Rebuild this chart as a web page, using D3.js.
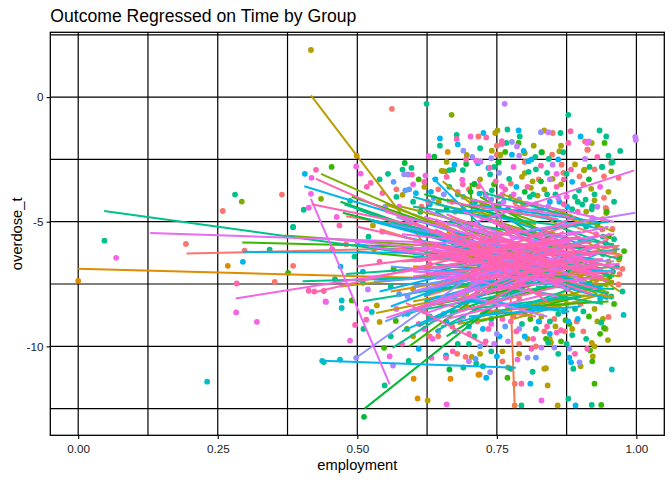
<!DOCTYPE html>
<html>
<head>
<meta charset="utf-8">
<script src="https://cdn.jsdelivr.net/npm/d3@7"></script>
<style>
  body { margin: 0; background: #fff; }
  text { font-family: "Liberation Sans", Arial, sans-serif; }
</style>
</head>
<body>
<div id="chart"></div>
<script>
// groups (one colour each, ggplot hue order)
const groups = ["g01","g02","g03","g04","g05","g06","g07","g08","g09","g10","g11","g12","g13","g14","g15","g16","g17"];

const xTicks = [0, 0.25, 0.5, 0.75, 1];
const xTickLabels = ["0.00", "0.25", "0.50", "0.75", "1.00"];
const xMinor = [0.125, 0.375, 0.625, 0.875];
const yTicks = [0, -5, -10];
const yTickLabels = ["0", "-5", "-10"];
const yMinor = [2.5, -2.5, -7.5, -12.5];

// observations: [group index, employment, overdose_t]
const points = [
  [2,0.0,-7.37],[8,0.047,-5.76],[15,0.068,-6.45],[0,0.193,-5.89],[9,0.231,-11.42],[0,0.259,-4.57],
  [8,0.281,-3.91],[5,0.293,-4.19],[2,0.268,-6.77],[10,0.295,-6.61],[0,0.298,-6.16],[8,0.343,-6.12],
  [0,0.385,-6.77],[6,0.376,-7.05],[16,0.284,-7.48],[0,0.352,-7.41],[15,0.283,-8.64],[15,0.320,-9.02],
  [0,0.365,-3.91],[8,0.385,-5.22],[8,0.404,-4.52],[15,0.413,-4.44],[15,0.417,-3.88],[5,0.435,-4.08],
  [10,0.406,-3.08],[15,0.418,-3.24],[16,0.426,-2.92],[6,0.454,-2.80],[3,0.417,1.89],[16,0.413,-7.77],
  [15,0.443,-8.2],[16,0.423,-7.8],[16,0.44,-7.78],[9,0.437,-10.58],[8,0.44,-10.63],[9,0.472,-8.16],
  [9,0.472,-8.46],[6,0.49,-8.16],[13,0.444,-8.22],[8,0.510,-7.45],[13,0.519,-7.72],[15,0.517,-8.5],
  [9,0.526,-8.62],[16,0.516,-8.93],[16,0.496,-9.14],[8,0.511,-9.30],[15,0.487,-9.77],[3,0.535,-8.36],
  [3,0.540,-9.02],[6,0.569,-8.98],[6,0.589,-9.30],[6,0.548,-10.06],[15,0.558,-10.4],[13,0.564,-10.77],
  [8,0.592,-10.58],[8,0.549,-11.57],[2,0.601,-11.30],[2,0.608,-12.09],[3,0.626,-12.17],[15,0.660,-12.33],
  [2,0.667,-11.30],[7,0.512,-12.83],[9,0.469,-10.53],[12,0.498,-10.46],[7,0.665,-10.93],[15,0.635,-9.70],
  [0,0.63,-9.6],[11,0.645,-9.39],[15,0.633,-10.46],[16,0.659,-10.46],[10,0.659,-10.36],[16,0.671,-10.2],
  [0,0.679,-10.3],[0,0.694,-10.42],[3,0.705,-10.42],[8,0.713,-10.69],[11,0.712,-10.5],[3,0.72,-10.3],
  [8,0.69,-10.85],[2,0.717,-11.14],[0,0.719,-11.13],[10,0.731,-11.26],[8,0.725,-10.8],[12,0.738,-11.04],
  [6,0.769,-11.26],[3,0.77,-10.85],[8,0.775,-10.9],[16,0.794,-11.5],[0,0.782,-11.5],[10,0.810,-11.5],
  [8,0.814,-11.02],[15,0.787,-10.53],[3,0.835,-10.90],[3,0.838,-10.88],[11,0.82,-10.45],[12,0.805,-10.45],
  [16,0.812,-10.1],[0,0.82,-10.0],[13,0.83,-10.05],[12,0.853,-10.05],[10,0.845,-9.5],[8,0.842,-9.85],
  [16,0.857,-9.45],[8,0.885,-9.55],[16,0.865,-9.35],[0,0.872,-9.4],[6,0.873,-8.95],[10,0.878,-9.0],
  [0,0.893,-9.0],[6,0.88,-9.1],[3,0.845,-9.7],[3,0.847,-9.85],[6,0.838,-9.7],[9,0.956,-10.93],
  [6,0.925,-11.50],[3,0.925,-10.00],[3,0.922,-10.4],[6,0.921,-10.6],[16,0.912,-10.1],[12,0.898,-10.64],
  [10,0.880,-10.45],[10,0.883,-10.64],[8,0.887,-10.90],[12,0.880,-10.09],[8,0.878,-12.1],[8,0.920,-12.35],
  [6,0.937,-12.35],[10,0.891,-12.37],[3,0.859,-12.37],[15,0.830,-12.17],[3,0.841,-11.57],[8,0.794,-12.37],
  [1,0.782,-12.37],[9,0.977,-8.74],[0,0.950,-8.82],[4,0.949,-9.75],[6,0.942,-9.26],[4,0.945,-9.3],
  [8,0.937,-9.05],[6,0.917,-10.16],[3,0.920,-9.86],
  [0,0.562,-0.47],[8,0.624,-0.27],[13,0.764,-0.27],[5,0.669,-0.71],[8,0.878,-0.71],[10,0.648,-1.66],
  [8,0.648,-1.95],[8,0.678,-1.52],[16,0.678,-1.68],[15,0.703,-1.58],[0,0.717,-1.58],[16,0.731,-1.62],
  [10,0.726,-1.44],[3,0.747,-1.44],[4,0.751,-1.34],[8,0.769,-1.30],[10,0.789,-1.34],[16,0.759,-1.77],
  [16,0.759,-1.88],[8,0.767,-1.84],[6,0.789,-1.84],[8,0.791,-1.58],[13,0.786,-1.98],[12,0.777,-1.80],
  [4,0.816,-1.95],[10,0.798,-2.16],[12,0.829,-1.41],[13,0.842,-1.41],[0,0.850,-1.44],[3,0.835,-1.34],
  [8,0.864,-1.44],[16,0.882,-1.37],[10,0.900,-1.58],[8,0.934,-1.34],[8,0.946,-1.58],[0,0.908,-1.78],
  [13,0.915,-1.78],[6,0.943,-1.84],[16,0.878,-1.84],[4,0.865,-1.95],[8,0.869,-2.21],[0,0.913,-2.11],
  [8,0.950,-2.35],[8,0.971,-2.16],[8,0.957,-2.60],[8,0.938,-2.80],[0,0.955,-2.64],[5,0.955,-2.98],
  [0,0.968,-3.24],[4,0.907,-2.91],[8,0.916,-2.80],[13,0.908,-2.48],[0,0.849,-2.31],[8,0.843,-2.48],
  [4,0.831,-2.21],[0,0.866,-2.71],[8,0.840,-3.04],[0,0.869,-3.04],[16,0.883,-2.91],[0,0.898,-3.18],
  [10,0.807,-2.57],[10,0.812,-2.50],[8,0.819,-2.40],[16,0.829,-2.75],[8,0.807,-3.0],[4,0.80,-3.05],
  [2,0.499,-2.35],[15,0.498,-2.78],[15,0.506,-3.07],[7,0.585,-2.64],[8,0.555,-3.08],[15,0.628,-2.37],
  [7,0.638,-2.39],[2,0.662,-2.20],[10,0.674,-2.71],[8,0.672,-2.91],[12,0.690,-2.15],[4,0.696,-2.32],
  [16,0.695,-2.5],[12,0.706,-2.40],[7,0.695,-2.68],[13,0.721,-2.59],[10,0.716,-2.65],[4,0.741,-2.15],
  [0,0.750,-2.31],[4,0.756,-2.33],[7,0.753,-2.61],[8,0.745,-2.8],[16,0.737,-2.83],[0,0.653,-2.96],
  [4,0.658,-2.98],[16,0.598,-3.11],[12,0.592,-3.11],[15,0.622,-3.15],[8,0.581,-2.91],[12,0.584,-3.1],
  [0,0.590,-3.1],[8,0.597,-2.84],[16,0.620,-3.4],[16,0.524,-3.44],[16,0.517,-3.6],[8,0.487,-4.16],
  [8,0.385,-5.21],[15,0.463,-4.81],[16,0.468,-5.15],[3,0.528,-5.15],[11,0.586,-3.74],[11,0.593,-3.7],
  [3,0.581,-3.92],[8,0.60,-4.2],[0,0.615,-4.4],[16,0.627,-4.2],[11,0.637,-4.05],[8,0.689,-2.93],
  [8,0.665,-2.93],[4,0.651,-2.96],[15,0.688,-3.31],[16,0.689,-3.5],[7,0.710,-3.48],[7,0.703,-3.8],
  [8,0.711,-4.2],[0,0.717,-3.58],[8,0.741,-3.74],[10,0.719,-3.87],[3,0.727,-4.4],[10,0.735,-2.84],
  [8,0.738,-3.1],[12,0.754,-3.04],[16,0.748,-3.38],[0,0.775,-3.47],[15,0.759,-3.58],[8,0.772,-3.28],
  [4,0.814,-3.38],[7,0.829,-3.38],[4,0.811,-3.64],[8,0.809,-4.0],[16,0.857,-3.6],[8,0.897,-3.74],
  [4,0.919,-3.68],[8,0.909,-4.11],[4,0.925,-4.14],[8,0.903,-4.31],[0,0.945,-4.45],[4,0.946,-4.65],
  [0,0.942,-4.04],[13,0.921,-4.85],[0,0.957,-5.29],[6,0.951,-5.58],[8,0.94,-5.6],[15,0.928,-5.5],
  [15,0.912,-1.84],[4,0.920,-1.84],[0,0.912,-2.11],[4,0.862,-2.17],[7,0.830,-2.21],[13,0.790,-2.35],
  [10,0.777,-2.31],[4,0.756,-2.31],[15,0.713,-2.55],[10,0.717,-2.61],[7,0.753,-2.61],[8,0.957,-2.61],
  [8,0.939,-2.80],[0,0.942,-3.18],[4,0.906,-2.94],[13,0.850,-2.71],[4,0.850,-3.28],[15,0.857,-3.08],
  [8,0.875,-3.08],[0,0.946,-4.49],[6,0.947,-4.6],[8,0.921,-4.38],[8,0.92,-4.5],[0,0.939,-5.31],
  [13,0.998,-1.6],[13,0.999,-1.72],
  [6,0.709,-3.5],[8,0.73,-3.9],[4,0.724,-4.3],[11,0.74,-4.1],[16,0.752,-4.0],[13,0.762,-4.2],
  [8,0.77,-4.5],[0,0.783,-4.2],[4,0.797,-4.35],[4,0.803,-4.3],[7,0.79,-4.6],[8,0.818,-4.6],
  [16,0.83,-4.5],[13,0.842,-4.4],[8,0.855,-4.7],[10,0.862,-4.2],[4,0.868,-4.6],[0,0.88,-4.8],
  [8,0.885,-4.5],[16,0.895,-4.6],[4,0.9,-5.0],[8,0.91,-5.2],[6,0.93,-5.1],[0,0.94,-4.9],
  [13,0.86,-4.05],[15,0.875,-4.0],[10,0.876,-4.4],[8,0.84,-3.9],[4,0.823,-3.95],[7,0.8,-3.8],
  [15,0.78,-3.9],[16,0.765,-3.7],[11,0.69,-4.0],[16,0.68,-3.8],[8,0.665,-3.6],[12,0.655,-3.9],
  [0,0.645,-3.7],[10,0.632,-3.8],[3,0.646,-4.2],[7,0.66,-4.5],[16,0.675,-4.6],[8,0.613,-4.6],
  [10,0.605,-3.85],[15,0.575,-4.4],[8,0.57,-4.0],[12,0.55,-4.4],[16,0.545,-3.85],
  [0,0.62,-8.6],[16,0.64,-8.9],[11,0.655,-8.7],[8,0.67,-8.6],[15,0.685,-9.0],[12,0.69,-8.8],
  [10,0.70,-9.2],[0,0.715,-9.0],[3,0.725,-8.7],[16,0.735,-9.3],[8,0.74,-8.9],[12,0.75,-9.5],
  [10,0.755,-9.6],[11,0.765,-9.2],[13,0.77,-9.8],[15,0.775,-9.0],[16,0.785,-9.4],[0,0.79,-9.9],
  [8,0.795,-9.1],[10,0.80,-9.6],[3,0.805,-9.7],[6,0.81,-8.9],[8,0.82,-9.3],[3,0.826,-9.0],
  [4,0.83,-8.8],[16,0.84,-9.2],[0,0.853,-8.9],[8,0.86,-8.7],[10,0.87,-8.6],[4,0.875,-8.3],
  [8,0.89,-8.5],[0,0.90,-8.3],[8,0.905,-8.6],[6,0.915,-8.8],[4,0.925,-8.5],[9,0.935,-8.1],
  [0,0.945,-8.0],[8,0.955,-8.0],[16,0.73,-9.8],[11,0.72,-10.0],[13,0.745,-9.9],[8,0.71,-9.6],
  [3,0.76,-10.2],[8,0.70,-9.9],
  [8,0.94,-6.3],[4,0.95,-6.6],[0,0.962,-6.05],[6,0.978,-6.18],[6,0.97,-6.41],[8,0.965,-6.8],
  [4,0.969,-6.52],[0,0.975,-6.89],[8,0.958,-7.0],[6,0.952,-7.2],[8,0.945,-7.1],[0,0.968,-7.52],
  [4,0.95,-7.4],[0,0.928,-7.35],[8,0.932,-7.7],[0,0.955,-7.45],[8,0.945,-5.85],[16,0.93,-6.0],
  [8,0.52,-5.6],[3,0.53,-6.1],[16,0.54,-6.6],[10,0.51,-7.0],[0,0.55,-7.3],[8,0.56,-7.6],
  [15,0.545,-5.4],[6,0.565,-6.9],[11,0.575,-7.9],[12,0.59,-8.0],[3,0.6,-7.7],[8,0.495,-6.4],
  [0,0.48,-5.9],[10,0.47,-6.8],[8,0.46,-7.3],[16,0.455,-6.1],[13,0.5,-5.8],
  [8,0.65,-5.5],[10,0.7,-5.2],[16,0.75,-5.0],[0,0.8,-5.4],[4,0.85,-5.5],[8,0.9,-5.8],
  [13,0.68,-6.3],[16,0.72,-6.8],[10,0.78,-6.2],[3,0.83,-6.6],[8,0.88,-6.9],[15,0.66,-7.2],
  [0,0.71,-7.6],[4,0.77,-7.3],[8,0.82,-7.8],[11,0.87,-7.5],[16,0.63,-6.7],[6,0.74,-5.8],
  [0,0.79,-8.1],[8,0.69,-8.1],[4,0.9,-7.2],[10,0.62,-5.9],[16,0.86,-6.2],[8,0.76,-7.9],[3,0.92,-6.7],
  [3,0.62,-3.6],[10,0.64,-3.3],[16,0.66,-3.2],[8,0.68,-3.9],[0,0.7,-3.7],[4,0.72,-3.3],
  [12,0.73,-4.0],[6,0.745,-3.5],[15,0.76,-3.9],[8,0.775,-4.0],[10,0.785,-3.6],[3,0.795,-3.2],
  [16,0.805,-3.6],[8,0.815,-3.9],[0,0.825,-3.3],[4,0.835,-3.7],[13,0.845,-3.3],[8,0.855,-3.9],
  [4,0.865,-3.5],[16,0.87,-3.3],[10,0.885,-3.4],[8,0.89,-4.0],[0,0.905,-3.5],[7,0.915,-3.3],
  [8,0.925,-3.9],[15,0.935,-3.6],[4,0.95,-3.8],[8,0.96,-4.2],[10,0.63,-4.3],[0,0.67,-4.2],
  [4,0.69,-4.5],[16,0.71,-4.4],[8,0.755,-4.3],[12,0.79,-4.1],[3,0.82,-4.3],[10,0.845,-4.2],
  [16,0.87,-4.3],[8,0.895,-4.2],[4,0.91,-4.6],[13,0.93,-4.4],[6,0.61,-3.3],[15,0.6,-3.5],
  [11,0.565,-3.4],[0,0.57,-3.7],[8,0.54,-3.3],[4,0.66,-2.6],[15,0.78,-2.8],[8,0.82,-2.9],
  [0,0.8,-2.6],[10,0.86,-2.5],[3,0.89,-2.7],[16,0.93,-2.4],[0,0.925,-2.9],[4,0.8,-2.25],
  [8,0.72,-2.05],[10,0.68,-1.9],[0,0.75,-1.95],[12,0.74,-2.45],[6,0.765,-2.2],
  [11,0.59,-8.7],[16,0.61,-9.1],[3,0.6,-9.6],[8,0.63,-8.8],[15,0.62,-9.3],[0,0.645,-9.6],
  [10,0.66,-9.0],[12,0.675,-9.4],[8,0.68,-9.9],[16,0.7,-9.5],[3,0.695,-8.4],[0,0.71,-8.5],
  [10,0.725,-9.3],[15,0.74,-9.1],[8,0.75,-8.6],[16,0.76,-8.9],[4,0.77,-8.5],[0,0.78,-8.8],
  [12,0.79,-9.3],[8,0.8,-8.7],[16,0.815,-9.7],[3,0.815,-8.5],[10,0.825,-9.0],[0,0.835,-9.4],
  [8,0.845,-9.0],[4,0.855,-9.2],[15,0.86,-8.4],[6,0.865,-9.8],[8,0.875,-9.9],[3,0.885,-9.3],
  [10,0.895,-8.9],[0,0.905,-9.4],[8,0.91,-9.7],[4,0.93,-9.0],[6,0.935,-9.5],[16,0.89,-10.3],
  [8,0.86,-10.3],[3,0.79,-10.3],[10,0.75,-10.4],[0,0.76,-10.6],[8,0.74,-10.2],[13,0.7,-10.6],
  [4,0.9,-10.8],[0,0.67,-9.2],[8,0.56,-9.6],[16,0.58,-9.9],[10,0.61,-10.1],[15,0.57,-8.5],
  [8,0.96,-5.7],[4,0.96,-6.2],[0,0.97,-7.1],[8,0.975,-7.8],[6,0.96,-8.3],[4,0.94,-8.9]
];

// per-group linear fits: [group index, x start, y start, x end, y end]
const fits = [
  [2,0.0,-6.89,0.64,-7.27],[3,0.417,0.07,0.62,-5.9],[8,0.0465,-4.57,0.62,-6.35],[14,0.129,-5.45,0.66,-5.85],
  [0,0.194,-6.28,0.62,-6.05],[15,0.282,-8.08,0.70,-6.6],[10,0.437,-10.58,0.784,-10.86],[7,0.513,-12.5,0.77,-7.93],
  [12,0.498,-10.46,0.69,-7.4],[14,0.417,-4.08,0.558,-11.53],[1,0.772,-6.5,0.782,-12.4],[15,0.70,-5.1,0.996,-2.94],
  [13,0.74,-5.6,0.998,-4.64],[5,0.435,-3.08,0.72,-5.9],[16,0.426,-3.28,0.72,-6.2],[10,0.405,-3.58,0.70,-5.6],
  [16,0.418,-4.3,0.62,-5.2],[8,0.477,-4.31,0.68,-5.8],[7,0.474,-4.64,0.66,-5.7],[0,0.48,-4.78,0.65,-5.4],
  [10,0.295,-6.21,0.6,-6.25],[6,0.294,-5.83,0.6,-6.0],[8,0.402,-7.39,0.7,-7.2],[16,0.42,-7.85,0.72,-6.24],
  [8,0.51,-8.19,0.70,-7.5],[3,0.534,-8.66,0.70,-7.9],[15,0.552,-8.86,0.72,-7.6],[8,0.563,-10.06,0.72,-7.8],
  [6,0.593,-10.0,0.74,-7.6],[16,0.587,-8.26,0.735,-10.0],[5,0.37,-5.55,0.62,-5.95],
  [10,0.635,-3.24,0.76,-6.0],[3,0.653,-3.38,0.78,-5.6],[15,0.715,-3.3,0.78,-5.8],
  [0,0.92,-6.2,0.97,-5.95],[0,0.951,-6.45,0.975,-6.32],[5,0.897,-7.45,0.951,-7.85],
  [8,0.48,-7.1,0.8,-6.6],[10,0.5,-5.9,0.8,-6.9],[16,0.5,-6.8,0.78,-6.0],[3,0.47,-7.6,0.7,-7.0],
  [6,0.5,-6.2,0.74,-6.7],[14,0.46,-5.7,0.8,-6.5],[11,0.53,-7.4,0.8,-7.0],[15,0.52,-6.0,0.83,-6.9],
  [0,0.60,-5.2,0.90,-7.0],[0,0.65,-7.4,0.93,-5.6],[0,0.58,-6.6,0.88,-6.2],[0,0.70,-5.0,0.95,-6.8],
  [0,0.62,-8.0,0.86,-6.4],[0,0.68,-6.0,0.97,-6.3],[0,0.64,-4.9,0.84,-7.6],
  [1,0.62,-6.2,0.90,-7.2],[1,0.70,-7.8,0.88,-5.8],
  [2,0.60,-6.8,0.92,-6.9],[2,0.66,-5.4,0.90,-8.0],[2,0.72,-8.3,0.86,-6.6],
  [3,0.62,-5.5,0.92,-7.8],[3,0.70,-6.4,0.95,-7.3],[3,0.75,-8.0,0.93,-6.7],[3,0.66,-7.0,0.90,-6.5],
  [3,0.80,-5.0,0.92,-7.6],[3,0.60,-4.7,0.80,-6.4],
  [4,0.68,-7.6,0.96,-6.8],[4,0.72,-5.6,0.93,-7.9],[4,0.78,-6.8,0.95,-7.6],[4,0.63,-6.3,0.89,-7.4],
  [4,0.82,-4.6,0.94,-6.2],[4,0.86,-7.9,0.95,-7.1],
  [5,0.60,-5.8,0.88,-6.6],[5,0.66,-7.7,0.92,-7.0],[5,0.72,-4.8,0.90,-6.0],
  [6,0.703,-3.45,0.708,-6.5],[6,0.62,-6.9,0.90,-5.9],[6,0.68,-5.2,0.94,-6.9],[6,0.74,-8.2,0.92,-7.2],
  [6,0.64,-4.6,0.82,-6.8],
  [7,0.60,-7.3,0.86,-5.5],[7,0.66,-6.2,0.95,-6.0],[7,0.70,-8.4,0.88,-7.0],[7,0.74,-4.4,0.90,-6.8],
  [8,0.58,-6.0,0.90,-7.6],[8,0.62,-7.9,0.93,-6.2],[8,0.66,-5.0,0.96,-5.9],[8,0.70,-6.6,0.95,-7.9],
  [8,0.76,-5.3,0.97,-6.5],[8,0.64,-6.7,0.88,-7.3],[8,0.72,-7.4,0.94,-8.3],[8,0.80,-6.2,0.96,-7.2],
  [8,0.68,-4.5,0.86,-6.0],[8,0.78,-8.5,0.92,-7.4],
  [9,0.60,-6.4,0.90,-6.8],[9,0.66,-7.3,0.94,-7.6],[9,0.72,-5.8,0.95,-6.6],[9,0.62,-5.3,0.85,-7.1],
  [9,0.76,-7.9,0.93,-6.3],[9,0.84,-6.0,0.96,-6.9],
  [10,0.58,-5.6,0.88,-6.9],[10,0.64,-7.0,0.92,-6.5],[10,0.70,-6.0,0.94,-7.7],[10,0.74,-4.7,0.90,-5.9],
  [10,0.62,-8.2,0.84,-6.8],[10,0.68,-6.6,0.96,-7.0],[10,0.80,-7.2,0.95,-8.1],
  [11,0.60,-7.6,0.85,-6.6],[11,0.66,-5.7,0.90,-6.4],[11,0.72,-7.0,0.93,-5.6],[11,0.56,-6.8,0.80,-7.3],
  [12,0.62,-6.0,0.88,-7.7],[12,0.70,-7.5,0.92,-6.0],[12,0.66,-5.1,0.86,-5.9],
  [13,0.64,-6.9,0.92,-6.1],[13,0.70,-5.4,0.90,-7.3],[13,0.60,-7.8,0.82,-6.5],[13,0.74,-6.4,0.96,-6.6],
  [14,0.58,-6.2,0.90,-5.4],[14,0.64,-7.3,0.93,-6.8],[14,0.70,-5.5,0.88,-7.8],[14,0.62,-4.8,0.86,-6.3],
  [14,0.76,-6.1,0.95,-5.2],[14,0.66,-8.1,0.84,-6.0],[14,0.72,-6.8,0.94,-6.0],
  [15,0.60,-6.6,0.88,-5.8],[15,0.66,-5.8,0.92,-7.0],[15,0.70,-7.1,0.95,-6.2],[15,0.62,-7.0,0.86,-8.0],
  [15,0.74,-5.0,0.90,-6.7],[15,0.68,-6.3,0.96,-5.5],[15,0.64,-5.3,0.82,-7.4],[15,0.78,-7.5,0.93,-6.5],
  [16,0.58,-6.1,0.90,-6.7],[16,0.62,-6.9,0.92,-5.8],[16,0.66,-5.6,0.94,-7.2],[16,0.70,-6.5,0.96,-6.2],
  [16,0.64,-7.6,0.88,-6.0],[16,0.68,-5.2,0.86,-7.5],[16,0.72,-7.2,0.93,-6.8],[16,0.60,-5.9,0.84,-6.5],
  [16,0.74,-5.8,0.95,-7.4],[16,0.66,-6.4,0.90,-5.6],[16,0.70,-8.0,0.85,-6.2],[16,0.76,-6.6,0.92,-7.9],
  [16,0.62,-6.3,0.86,-7.0],[16,0.68,-7.0,0.94,-6.5],[16,0.74,-4.9,0.88,-6.8],[16,0.64,-5.0,0.80,-7.2],
  [16,0.78,-5.9,0.96,-6.0],[16,0.70,-6.0,0.84,-8.2],[16,0.60,-7.2,0.82,-6.6],[16,0.72,-6.3,0.90,-5.0],
  [16,0.63,-5.4,0.91,-6.3],[16,0.67,-7.4,0.87,-5.4],[16,0.71,-5.5,0.97,-6.9],[16,0.65,-6.0,0.93,-7.7],
  [16,0.69,-6.8,0.89,-4.8],[16,0.75,-7.6,0.95,-5.7],[16,0.61,-6.6,0.79,-5.3],[16,0.73,-8.3,0.88,-6.4],
  [16,0.77,-5.2,0.92,-6.4],[16,0.66,-4.7,0.83,-6.3],[16,0.70,-7.3,0.96,-7.0],[16,0.64,-6.5,0.94,-6.9],
  [15,0.63,-6.1,0.87,-7.6],[15,0.69,-4.6,0.89,-6.1],[15,0.71,-7.8,0.94,-7.2],[15,0.58,-5.5,0.80,-6.0],
  [15,0.75,-6.9,0.97,-6.7],[14,0.60,-7.0,0.91,-7.4],[14,0.68,-4.9,0.92,-6.6],[14,0.73,-7.9,0.90,-6.4],
  [10,0.56,-8.4,0.80,-6.4],[9,0.58,-8.8,0.82,-6.8],[11,0.57,-8.0,0.79,-6.9],[8,0.61,-9.2,0.80,-7.0],
  [10,0.54,-7.8,0.76,-6.6],[12,0.6,-8.6,0.78,-7.2],[8,0.64,-9.4,0.82,-7.2],[9,0.62,-8.0,0.75,-6.5],
  [7,0.66,-9.6,0.82,-7.3],[3,0.6,-8.2,0.76,-7.5],[2,0.56,-7.8,0.74,-7.1],
  [8,0.6,-4.4,0.88,-5.2],[3,0.66,-4.1,0.87,-5.6],[10,0.7,-4.3,0.93,-5.0],[4,0.64,-4.3,0.82,-5.1],
  [6,0.72,-4.0,0.84,-5.5],[9,0.75,-4.5,0.94,-5.3],[13,0.62,-4.5,0.78,-5.9],[0,0.78,-4.3,0.95,-5.7],
  [5,0.68,-3.9,0.82,-5.0],
  [8,0.66,-8.6,0.90,-8.0],[4,0.72,-8.7,0.93,-7.9],[10,0.64,-8.0,0.86,-8.5],[3,0.78,-8.9,0.94,-7.9],
  [9,0.7,-8.2,0.88,-8.6],[0,0.74,-8.6,0.92,-8.2],[13,0.68,-7.9,0.84,-8.8],[6,0.8,-8.4,0.95,-8.2],
  [4,0.8,-7.0,0.96,-7.4],[3,0.84,-6.7,0.97,-7.2],[8,0.82,-7.6,0.96,-7.7],[9,0.86,-6.4,0.97,-6.1],
  [7,0.47,-4.2,0.7,-6.0],[8,0.5,-4.5,0.72,-6.3],[9,0.52,-4.9,0.75,-6.1],[6,0.49,-4.0,0.66,-5.3],
  [3,0.55,-4.3,0.72,-5.7],[10,0.53,-5.0,0.78,-6.5],[16,0.5,-5.2,0.74,-6.4],[14,0.55,-4.6,0.7,-5.5],
  [11,0.56,-5.1,0.8,-6.2],[0,0.54,-5.3,0.76,-6.8],[4,0.58,-4.4,0.76,-5.4],[12,0.57,-4.8,0.72,-6.2],
  [11,0.55,-9.0,0.74,-7.3],[10,0.58,-9.4,0.78,-7.4],[8,0.6,-8.6,0.84,-7.6],[12,0.63,-9.0,0.8,-7.8],
  [9,0.65,-9.2,0.86,-8.0],[7,0.62,-8.4,0.78,-7.7],[16,0.6,-8.5,0.8,-7.5],[15,0.66,-8.9,0.84,-7.9],
  [3,0.68,-9.1,0.88,-8.3],[0,0.64,-8.3,0.82,-8.8],[10,0.7,-8.8,0.9,-8.4],[14,0.62,-8.7,0.76,-7.6],
  [16,0.68,-8.6,0.86,-7.6],[2,0.7,-8.9,0.86,-8.1],[6,0.72,-9.0,0.9,-8.0],
  [7,0.62,-3.9,0.8,-5.0],[8,0.72,-3.8,0.9,-4.9],[16,0.66,-4.2,0.86,-4.9],[3,0.76,-3.9,0.92,-5.2],
  [10,0.64,-4.6,0.84,-4.5],[14,0.8,-4.2,0.96,-5.0],[15,0.7,-4.1,0.88,-4.8],[4,0.84,-4.4,0.96,-5.4],
  [9,0.6,-4.0,0.74,-4.9],
  [3,0.82,-7.9,0.96,-8.0],[4,0.84,-5.8,0.97,-7.8],[8,0.86,-5.2,0.96,-6.0],[9,0.8,-5.4,0.95,-5.0],
  [5,0.84,-8.2,0.96,-7.4]
];

const W = 672, H = 480;
const panel = { left: 50.3, right: 664.3, top: 32.3, bottom: 435.3 };

const svg = d3.select("#chart").append("svg")
  .attr("width", W)
  .attr("height", H);

svg.append("rect").attr("width", W).attr("height", H).attr("fill", "#fff");

const x = d3.scaleLinear().domain([-0.05, 1.05]).range([panel.left, panel.right]);
const y = d3.scaleLinear().domain([-13.57, 2.6]).range([panel.bottom, panel.top]);

const color = d3.scaleOrdinal()
  .domain(groups)
  .range(["#F8766D","#F07E4A","#DE8C00","#B79F00","#A3A500","#7CAE00","#39B600","#00BA38",
          "#00C08B","#00BFC4","#00B4F0","#619CFF","#9590FF","#C77CFF","#E76BF3","#F564E3","#FF64B0"]);

// grid
const grid = svg.append("g").attr("stroke", "#000").attr("stroke-width", 1.2);
grid.selectAll("line.vx")
  .data(xTicks.concat(xMinor))
  .enter().append("line")
  .attr("x1", d => x(d)).attr("x2", d => x(d))
  .attr("y1", panel.top).attr("y2", panel.bottom);
grid.selectAll("line.hy")
  .data(yTicks.concat(yMinor))
  .enter().append("line")
  .attr("y1", d => y(d)).attr("y2", d => y(d))
  .attr("x1", panel.left).attr("x2", panel.right);

// clip to panel
svg.append("clipPath").attr("id", "clip")
  .append("rect")
  .attr("x", panel.left).attr("y", panel.top)
  .attr("width", panel.right - panel.left).attr("height", panel.bottom - panel.top);

const plot = svg.append("g").attr("clip-path", "url(#clip)");

// points, in group order
plot.selectAll("circle")
  .data(points.slice().sort((a, b) => a[0] - b[0]))
  .enter().append("circle")
  .attr("cx", d => x(d[1]))
  .attr("cy", d => y(d[2]))
  .attr("r", 2.9)
  .attr("fill", d => color(groups[d[0]]));

// fitted lines, in group order
const line = d3.line().x(d => x(d[0])).y(d => y(d[1]));
plot.selectAll("path.fit")
  .data(fits.slice().sort((a, b) => a[0] - b[0]))
  .enter().append("path")
  .attr("class", "fit")
  .attr("d", d => line([[d[1], d[2]], [d[3], d[4]]]))
  .attr("fill", "none")
  .attr("stroke", d => color(groups[d[0]]))
  .attr("stroke-width", 2);

// panel border
svg.append("rect")
  .attr("x", panel.left).attr("y", panel.top)
  .attr("width", panel.right - panel.left).attr("height", panel.bottom - panel.top)
  .attr("fill", "none").attr("stroke", "#000").attr("stroke-width", 1.3);

// axes
const xAxis = svg.append("g")
  .attr("transform", `translate(0,${panel.bottom})`)
  .call(d3.axisBottom(x).tickValues(xTicks).tickFormat((d, i) => xTickLabels[i])
    .tickSize(3.7).tickSizeOuter(0).tickPadding(5.5));
const yAxis = svg.append("g")
  .attr("transform", `translate(${panel.left},0)`)
  .call(d3.axisLeft(y).tickValues(yTicks).tickFormat((d, i) => yTickLabels[i])
    .tickSize(3.7).tickSizeOuter(0).tickPadding(3.2));

[xAxis, yAxis].forEach(a => {
  a.select(".domain").remove();
  a.selectAll(".tick line").attr("stroke", "#000").attr("stroke-width", 1.1);
  a.selectAll(".tick text")
    .attr("fill", "#1a1a1a")
    .style("font-size", "11.7px")
    .style("font-family", "'Liberation Sans', Arial, sans-serif");
});

// labels
svg.append("text")
  .attr("x", (panel.left + panel.right) / 2)
  .attr("y", 470)
  .attr("text-anchor", "middle")
  .style("font-size", "14.7px")
  .text("employment");

svg.append("text")
  .attr("transform", `translate(21.5,${(panel.top + panel.bottom) / 2}) rotate(-90)`)
  .attr("text-anchor", "middle")
  .style("font-size", "14.7px")
  .text("overdose_t");

svg.append("text")
  .attr("x", panel.left)
  .attr("y", 21.7)
  .style("font-size", "17.6px")
  .text("Outcome Regressed on Time by Group");
</script>
</body>
</html>
